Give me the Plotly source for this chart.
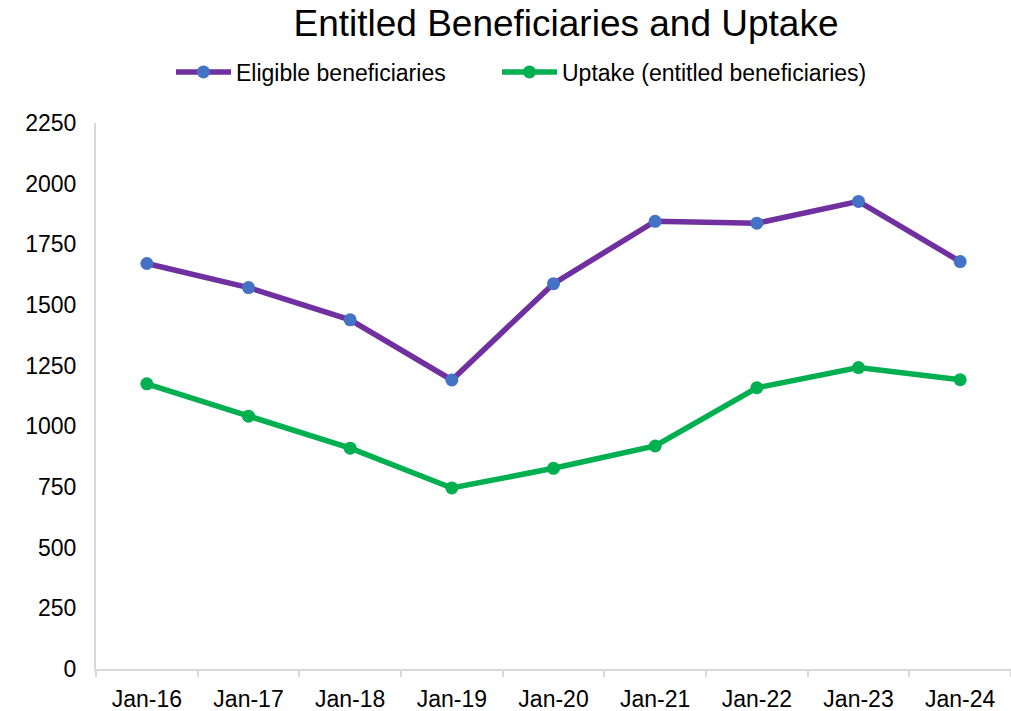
import plotly.graph_objects as go

months = ["Jan-16", "Jan-17", "Jan-18", "Jan-19", "Jan-20", "Jan-21", "Jan-22", "Jan-23", "Jan-24"]
eligible = [1671, 1572, 1439, 1191, 1588, 1845, 1837, 1927, 1679]
uptake = [1175, 1042, 910, 746, 827, 919, 1159, 1242, 1192]
y_ticks = [0, 250, 500, 750, 1000, 1250, 1500, 1750, 2000, 2250]

FONT = "Liberation Sans, Arial, sans-serif"
AXIS_GREY = "#D9D9D9"
W, H = 1011, 711

fig = go.Figure()
fig.add_trace(go.Scatter(
    x=months, y=eligible, name="Eligible beneficiaries",
    mode="lines+markers",
    line=dict(color="#7030A0", width=5.5),
    marker=dict(color="#4472C4", size=13),
    legend="legend",
))
fig.add_trace(go.Scatter(
    x=months, y=uptake, name="Uptake (entitled beneficiaries)",
    mode="lines+markers",
    line=dict(color="#00B050", width=5.5),
    marker=dict(color="#00B050", size=13),
    legend="legend2",
))

legend_style = dict(orientation="h", xanchor="left", xref="container",
                    y=1 - 72 / H, yanchor="middle", yref="container",
                    font=dict(size=23), itemwidth=55)

fig.update_layout(
    width=W, height=H,
    margin=dict(l=96, r=0, t=123, b=42),
    paper_bgcolor="white", plot_bgcolor="white",
    font=dict(family=FONT, size=23, color="black"),
    title=dict(text="Entitled Beneficiaries and Uptake", font=dict(size=37, color="black"),
               x=566 / W, xanchor="center", xref="container",
               y=1 - 23 / H, yanchor="middle", yref="container"),
    legend=dict(x=171 / W, **legend_style),
    legend2=dict(x=497 / W, **legend_style),
    showlegend=True,
)
fig.update_xaxes(
    type="category", showgrid=False, zeroline=False, automargin=False,
    showline=True, linecolor=AXIS_GREY, linewidth=2,
    tickson="boundaries", ticks="outside", ticklen=6, tickcolor=AXIS_GREY, tickwidth=2,
    ticklabelstandoff=8, tickfont=dict(size=23), range=[-0.5, 8.5],
)
fig.update_yaxes(
    range=[0, 2250], tickvals=y_ticks, showgrid=False, zeroline=False, automargin=False,
    showline=True, linecolor=AXIS_GREY, linewidth=2, ticks="",
    ticklabelstandoff=13, tickfont=dict(size=23),
)

# drop the browser's default 8px body margin so the figure fills the window
fig.write_html("out.html", config={"displayModeBar": False},
               post_script="document.body.style.margin='0';")
